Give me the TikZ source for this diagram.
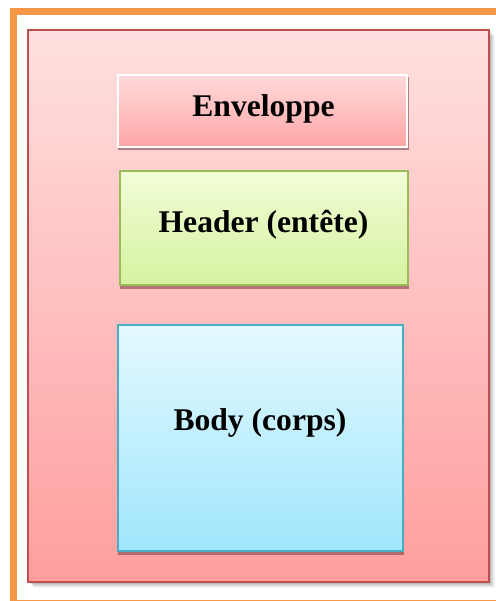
\documentclass[tikz,border=0pt]{standalone}
\usepackage{fontspec}
\setmainfont{Liberation Serif}
\begin{document}
\definecolor{frameorange}{RGB}{247,150,70}
\definecolor{envborder}{RGB}{192,80,77}
\definecolor{envtop}{RGB}{255,224,224}
\definecolor{envbottom}{RGB}{255,158,158}
\definecolor{tagtop}{RGB}{255,218,218}
\definecolor{tagbottom}{RGB}{255,165,165}
\definecolor{hdrborder}{RGB}{155,187,89}
\definecolor{hdrtop}{RGB}{242,253,215}
\definecolor{hdrbottom}{RGB}{214,242,160}
\definecolor{bodyborder}{RGB}{75,172,198}
\definecolor{bodytop}{RGB}{228,249,255}
\definecolor{bodybottom}{RGB}{160,230,252}
\definecolor{shade}{RGB}{110,60,60}
\begin{tikzpicture}[x=0.5pt,y=-0.5pt,
  panel/.style={rectangle,inner sep=0pt,anchor=center},
  harddrop/.style={fill=shade,opacity=0.55},
  lbl/.style={font=\fontsize{15.8}{19}\selectfont\bfseries,inner sep=0pt,anchor=base}]
\useasboundingbox (0,0) rectangle (496,601);
\begin{scope}
\clip (0,0) rectangle (496,601);
% outer orange frame, running off the right edge
\draw[frameorange,line width=3.5pt] (13.5,11.5) rectangle (520,603);
\end{scope}
% soft shadow of the envelope
\foreach \d/\o in {1/0.10,2/0.08,3/0.07,4/0.06,5/0.05,6/0.04}
  \fill[black,opacity=\o] (28+\d,30+\d) rectangle (489+\d,582+\d);
% envelope
\node[panel,draw=envborder,line width=1pt,top color=envtop,bottom color=envbottom,
      minimum width=461*0.5pt,minimum height=552*0.5pt] (env) at (258.5,306) {};
% envelope tag
\fill[harddrop] (118,77) rectangle (409,150);
\node[panel,draw=white,line width=0.7pt,top color=tagtop,bottom color=tagbottom,
      minimum width=289*0.5pt,minimum height=72*0.5pt] (tag) at (262.5,111) {};
\node[lbl] (taglbl) at (263.5,116) {Enveloppe};
% header
\fill[harddrop] (120,174) rectangle (409,289);
\node[panel,draw=hdrborder,line width=0.8pt,top color=hdrtop,bottom color=hdrbottom,
      minimum width=288*0.5pt,minimum height=114*0.5pt] (hdr) at (264,228) {};
\node[lbl] (hdrlbl) at (263.5,232) {Header (entête)};
% body
\fill[harddrop] (118,328) rectangle (404,555);
\node[panel,draw=bodyborder,line width=0.8pt,top color=bodytop,bottom color=bodybottom,
      minimum width=285*0.5pt,minimum height=226*0.5pt] (bdy) at (260.5,438) {};
\node[lbl] (bdylbl) at (260,430) {Body (corps)};
\end{tikzpicture}
\end{document}
